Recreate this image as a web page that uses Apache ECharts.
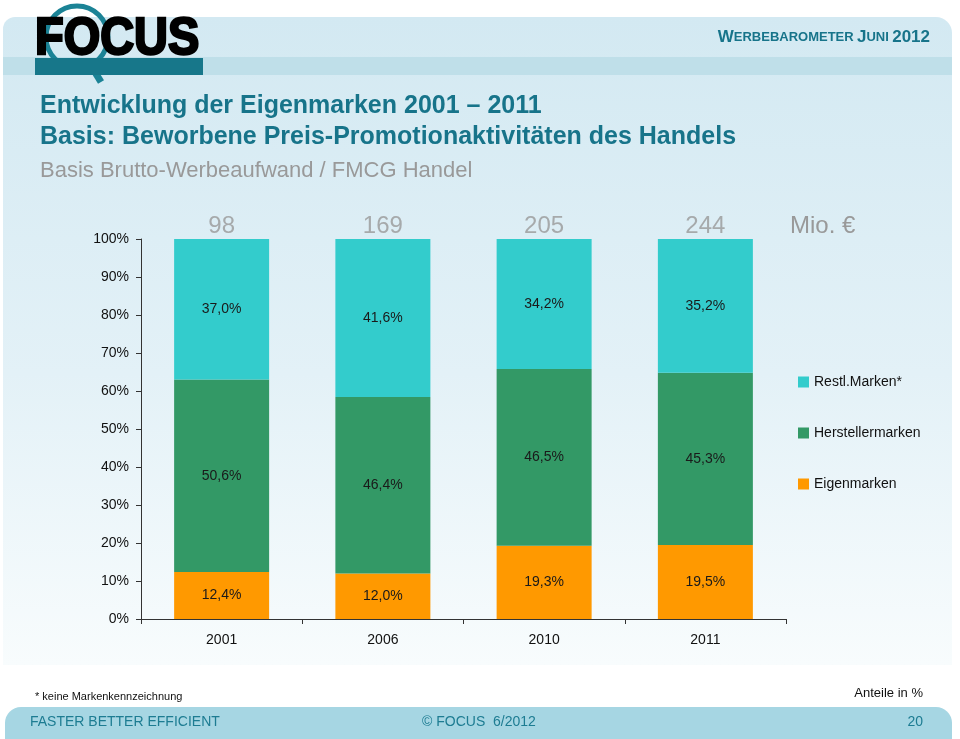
<!DOCTYPE html>
<html>
<head>
<meta charset="utf-8">
<script src="https://cdn.jsdelivr.net/npm/echarts@6/dist/echarts.min.js"></script>
<style>
html,body{margin:0;padding:0;background:#fff;}
#chart{width:960px;height:739px;}
</style>
</head>
<body>
<div id="chart"></div>
<script>
// ---- data ----
const categories = ['2001', '2006', '2010', '2011'];
const eigenmarken = [12.4, 12.0, 19.3, 19.5];
const herstellermarken = [50.6, 46.4, 46.5, 45.3];
const restlMarken = [37.0, 41.6, 34.2, 35.2];
const totalsMio = [98, 169, 205, 244];
const seriesNames = ['Restl.Marken*', 'Herstellermarken', 'Eigenmarken'];
const yTickLabels = ['0%', '10%', '20%', '30%', '40%', '50%', '60%', '70%', '80%', '90%', '100%'];

const FONT = '"Liberation Sans", Arial, sans-serif';
const TEAL = '#17748a';
const fmtPct = v => v.toFixed(1).replace('.', ',') + '%';

const chart = echarts.init(document.getElementById('chart'), null, {renderer: 'canvas'});

const barLabel = {
  show: true, position: 'inside', color: '#1a1a1a', fontSize: 14, fontFamily: FONT,
  formatter: p => fmtPct(p.value)
};

const stackTops = categories.map((c, i) => eigenmarken[i] + herstellermarken[i] + restlMarken[i]);

const option = {
  animation: false,
  backgroundColor: '#ffffff',
  textStyle: {fontFamily: FONT},
  graphic: [
    // panel background
    {type: 'rect', z: -20, shape: {x: 3, y: 17, width: 949, height: 648, r: [12, 16, 0, 0]},
      style: {fill: {type: 'linear', x: 0, y: 0, x2: 0, y2: 1, colorStops: [
        {offset: 0, color: '#d3e9f2'}, {offset: 0.55, color: '#e3f1f7'}, {offset: 1, color: '#f8fcfd'}]}}},
    {type: 'rect', z: -19, shape: {x: 3, y: 57, width: 949, height: 18}, style: {fill: '#bfdfe9'}},
    // logo
    {type: 'circle', z: -5, shape: {cx: 77, cy: 37, r: 31}, style: {fill: 'none', stroke: '#1b8396', lineWidth: 5}},
    {type: 'line', z: -5, shape: {x1: 90, y1: 64, x2: 101, y2: 82}, style: {stroke: '#1b8396', lineWidth: 7}},
    {type: 'rect', z: -4, shape: {x: 35, y: 58, width: 168, height: 17}, style: {fill: '#17778a'}},
    {type: 'text', z: -3, x: 35, y: 40, scaleX: 0.92,
      style: {text: 'FOCUS', font: 'bold 51px "Liberation Sans", Arial, sans-serif', fill: '#000',
        stroke: '#000', lineWidth: 2.5, textVerticalAlign: 'middle'}},
    // top right header
    {type: 'text', z: -3, x: 930, y: 37,
      style: {text: '{b|W}{s|ERBEBAROMETER} {b|J}{s|UNI} {b|2012}', textAlign: 'right', textVerticalAlign: 'middle',
        rich: {b: {fontSize: 17, fontWeight: 'bold', fill: TEAL, fontFamily: FONT},
               s: {fontSize: 13, fontWeight: 'bold', fill: TEAL, fontFamily: FONT}}}},
    // titles
    {type: 'text', z: -3, x: 40, y: 106,
      style: {text: 'Entwicklung der Eigenmarken 2001 – 2011', font: 'bold 25px "Liberation Sans", Arial, sans-serif',
        fill: TEAL, textVerticalAlign: 'middle'}},
    {type: 'text', z: -3, x: 40, y: 137,
      style: {text: 'Basis: Beworbene Preis-Promotionaktivitäten des Handels', font: 'bold 25px "Liberation Sans", Arial, sans-serif',
        fill: TEAL, textVerticalAlign: 'middle'}},
    {type: 'text', z: -3, x: 40, y: 171,
      style: {text: 'Basis Brutto-Werbeaufwand / FMCG Handel', font: '22px "Liberation Sans", Arial, sans-serif',
        fill: '#999999', textVerticalAlign: 'middle'}},
    {type: 'text', z: -3, x: 790, y: 226,
      style: {text: 'Mio. €', font: '24px "Liberation Sans", Arial, sans-serif', fill: '#999999', textVerticalAlign: 'middle'}},
    // notes
    {type: 'text', z: -3, x: 35, y: 697,
      style: {text: '* keine Markenkennzeichnung', font: '11px "Liberation Sans", Arial, sans-serif', fill: '#111', textVerticalAlign: 'middle'}},
    {type: 'text', z: -3, x: 923, y: 693,
      style: {text: 'Anteile in %', font: '13px "Liberation Sans", Arial, sans-serif', fill: '#111', textAlign: 'right', textVerticalAlign: 'middle'}},
    // footer
    {type: 'rect', z: -3, shape: {x: 5, y: 707, width: 947, height: 40, r: [16, 16, 0, 0]}, style: {fill: '#a6d6e3'}},
    {type: 'text', z: -2, x: 30, y: 722,
      style: {text: 'FASTER BETTER EFFICIENT', font: '14px "Liberation Sans", Arial, sans-serif', fill: '#1d7c92', textVerticalAlign: 'middle'}},
    {type: 'text', z: -2, x: 479, y: 722,
      style: {text: '© FOCUS  6/2012', font: '14px "Liberation Sans", Arial, sans-serif', fill: '#1d7c92', textAlign: 'center', textVerticalAlign: 'middle'}},
    {type: 'text', z: -2, x: 923, y: 722,
      style: {text: '20', font: '14px "Liberation Sans", Arial, sans-serif', fill: '#1d7c92', textAlign: 'right', textVerticalAlign: 'middle'}}
  ],
  legend: {
    orient: 'vertical', left: 798, top: 375, padding: 0,
    itemWidth: 11, itemHeight: 11, itemGap: 37, icon: 'rect',
    data: seriesNames,
    textStyle: {fontSize: 14, color: '#111', fontFamily: FONT}
  },
  grid: {left: 141, right: 174, top: 239, bottom: 120, containLabel: false},
  xAxis: {
    type: 'category', data: categories,
    axisLine: {lineStyle: {color: '#333', width: 1}},
    axisTick: {show: true, length: 5, lineStyle: {color: '#333'}},
    axisLabel: {fontSize: 14, color: '#111', margin: 14, fontFamily: FONT}
  },
  yAxis: {
    type: 'value', min: 0, max: 100, interval: 10,
    axisLine: {show: true, lineStyle: {color: '#333', width: 1}},
    axisTick: {show: true, length: 5, lineStyle: {color: '#333'}},
    splitLine: {show: false},
    axisLabel: {fontSize: 14, color: '#111', margin: 12, fontFamily: FONT,
      formatter: (v) => yTickLabels[Math.round(v / 10)]}
  },
  series: [
    {name: 'Eigenmarken', type: 'bar', stack: 'a', barWidth: 95, data: eigenmarken,
      itemStyle: {color: '#ff9900'}, label: barLabel},
    {name: 'Herstellermarken', type: 'bar', stack: 'a', data: herstellermarken,
      itemStyle: {color: '#339966'}, label: barLabel},
    {name: 'Restl.Marken*', type: 'bar', stack: 'a', data: restlMarken,
      itemStyle: {color: '#33cccc'}, label: barLabel},
    {name: 'totals', type: 'scatter', data: stackTops, symbol: 'rect', symbolSize: 1, silent: true,
      itemStyle: {color: 'rgba(0,0,0,0)'},
      label: {show: true, position: 'top', distance: 0, fontSize: 24, color: '#999999', fontFamily: FONT,
        formatter: p => String(totalsMio[p.dataIndex])}}
  ]
};
chart.setOption(option);
</script>
</body>
</html>
